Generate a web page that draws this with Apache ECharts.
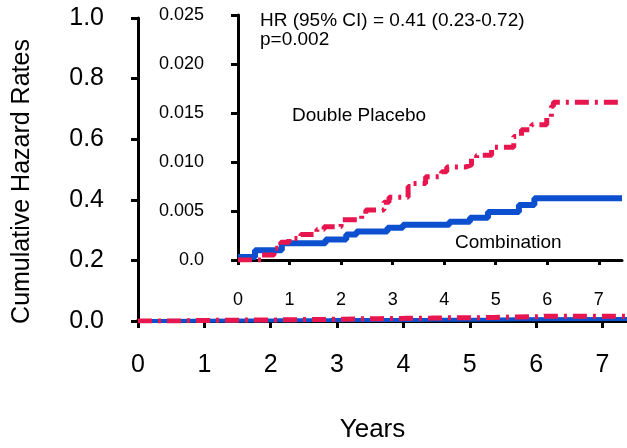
<!DOCTYPE html>
<html>
<head>
<meta charset="utf-8">
<script src="https://cdn.jsdelivr.net/npm/echarts@6/dist/echarts.min.js"></script>
<style>
  html, body { margin: 0; padding: 0; background: #fff; }
  #chart { width: 627px; height: 448px; }
</style>
</head>
<body>
<div id="chart"></div>
<script>
// tick labels
const yearTicks = [0, 1, 2, 3, 4, 5, 6, 7];
const mainYTicks = [0, 0.2, 0.4, 0.6, 0.8, 1.0];
const insetYTicks = [0, 0.005, 0.01, 0.015, 0.02, 0.025];

// Combination (step times / cumulative hazard)
const comboT = [0, 0.33, 0.85, 1.7, 2.1, 2.3, 2.9, 3.2, 4.1, 4.5, 4.85, 5.45, 5.75, 7.45];
const comboV = [0.0003, 0.001, 0.0017, 0.0021, 0.0026, 0.0029, 0.0033, 0.0036, 0.0039, 0.0043, 0.0049, 0.0056, 0.0063, 0.0063];

// Double Placebo
const placeboT = [0, 0.45, 0.7, 0.83, 0.99, 1.22, 1.53, 1.67, 2.0, 2.4, 2.48, 2.83, 2.93, 3.3, 3.35, 3.64, 3.95, 4.05, 4.42, 4.53, 4.63, 4.92, 5.35, 5.5, 5.7, 5.99, 6.08, 6.12, 7.45];
const placeboV = [0, 0.0005, 0.0012, 0.0018, 0.0022, 0.0026, 0.0031, 0.0034, 0.0041, 0.0046, 0.0051, 0.0059, 0.0064, 0.0075, 0.0078, 0.0085, 0.009, 0.0095, 0.0097, 0.0104, 0.0107, 0.0115, 0.0126, 0.0133, 0.0138, 0.0145, 0.0157, 0.0161, 0.0161];

const RED = "#e8164f";
const BLUE = "#0d50cf";
const FONT = "Liberation Sans";

function pairs(t, v) {
  return t.map((x, i) => [x, v[i]]);
}

var myChart = echarts.init(document.getElementById("chart"));

function xAxis(idx, max, size, margin, tickLen, lineW, extra) {
  return Object.assign({
    type: "value",
    gridIndex: idx,
    min: 0,
    max: max,
    axisLine: { onZero: false, lineStyle: { color: "#000", width: lineW } },
    axisTick: { customValues: yearTicks, length: tickLen, lineStyle: { color: "#000", width: 3 } },
    axisLabel: { customValues: yearTicks, margin: margin, fontSize: size, fontFamily: FONT, color: "#000" },
    splitLine: { show: false },
  }, extra || {});
}

function yAxis(idx, max, ticks, digits, size, margin, extra) {
  return Object.assign({
    type: "value",
    gridIndex: idx,
    min: 0,
    max: max,
    axisLine: { show: true, lineStyle: { color: "#000", width: 3 } },
    axisTick: { show: true, customValues: ticks, length: 7, lineStyle: { color: "#000", width: 3 } },
    axisLabel: {
      customValues: ticks,
      margin: margin,
      fontSize: size,
      fontFamily: FONT,
      color: "#000",
      formatter: (v) => (v === 0 ? "0.0" : v.toFixed(digits)),
    },
    splitLine: { show: false },
  }, extra || {});
}

const option = {
  backgroundColor: "#fff",
  animation: false,
  grid: [
    { left: 138, top: 18, width: 489, height: 311 },
    { left: 238, top: 15, width: 384, height: 245 },
  ],
  xAxis: [
    xAxis(0, 7.37, 25, 32, 7, 4, {
      name: "Years",
      nameLocation: "middle",
      nameGap: 96,
      nameTextStyle: { fontSize: 26, fontFamily: FONT, color: "#000", padding: [0, 20, 0, 0] },
    }),
    xAxis(1, 7.45, 18, 31, 5, 3),
  ],
  yAxis: [
    yAxis(0, 1.0, mainYTicks, 1, 25, 34, {
      name: "Cumulative Hazard Rates",
      nameLocation: "middle",
      nameGap: 103,
      nameTextStyle: { fontSize: 25, fontFamily: FONT, color: "#000", padding: [0, 24, 0, 0] },
    }),
    yAxis(1, 0.025, insetYTicks, 3, 18, 34),
  ],
  series: [
    {
      name: "Combination",
      type: "line",
      xAxisIndex: 0,
      yAxisIndex: 0,
      step: "end",
      symbol: "none",
      lineStyle: { color: BLUE, width: 4 },
      data: pairs(comboT, comboV),
    },
    {
      name: "Double Placebo",
      type: "line",
      xAxisIndex: 0,
      yAxisIndex: 0,
      step: "end",
      symbol: "none",
      lineStyle: { color: RED, width: 5, type: [14, 6, 3, 6] },
      data: pairs(placeboT, placeboV),
    },
    {
      name: "Combination",
      type: "line",
      xAxisIndex: 1,
      yAxisIndex: 1,
      step: "end",
      symbol: "none",
      lineStyle: { color: BLUE, width: 6 },
      data: pairs(comboT, comboV),
    },
    {
      name: "Double Placebo",
      type: "line",
      xAxisIndex: 1,
      yAxisIndex: 1,
      step: "end",
      symbol: "none",
      lineStyle: { color: RED, width: 5, type: [14, 6, 3, 6] },
      data: pairs(placeboT, placeboV),
    },
  ],
  graphic: [
    {
      type: "text",
      left: 260,
      top: 11,
      style: {
        text: "HR (95% CI) = 0.41 (0.23-0.72)\np=0.002",
        font: "19px " + FONT,
        lineHeight: 19,
        fill: "#000",
      },
    },
    {
      type: "text",
      left: 292,
      top: 106,
      style: { text: "Double Placebo", font: "19px " + FONT, fill: "#000" },
    },
    {
      type: "text",
      left: 455,
      top: 233,
      style: { text: "Combination", font: "19px " + FONT, fill: "#000" },
    },
  ],
};

myChart.setOption(option);
</script>
</body>
</html>
